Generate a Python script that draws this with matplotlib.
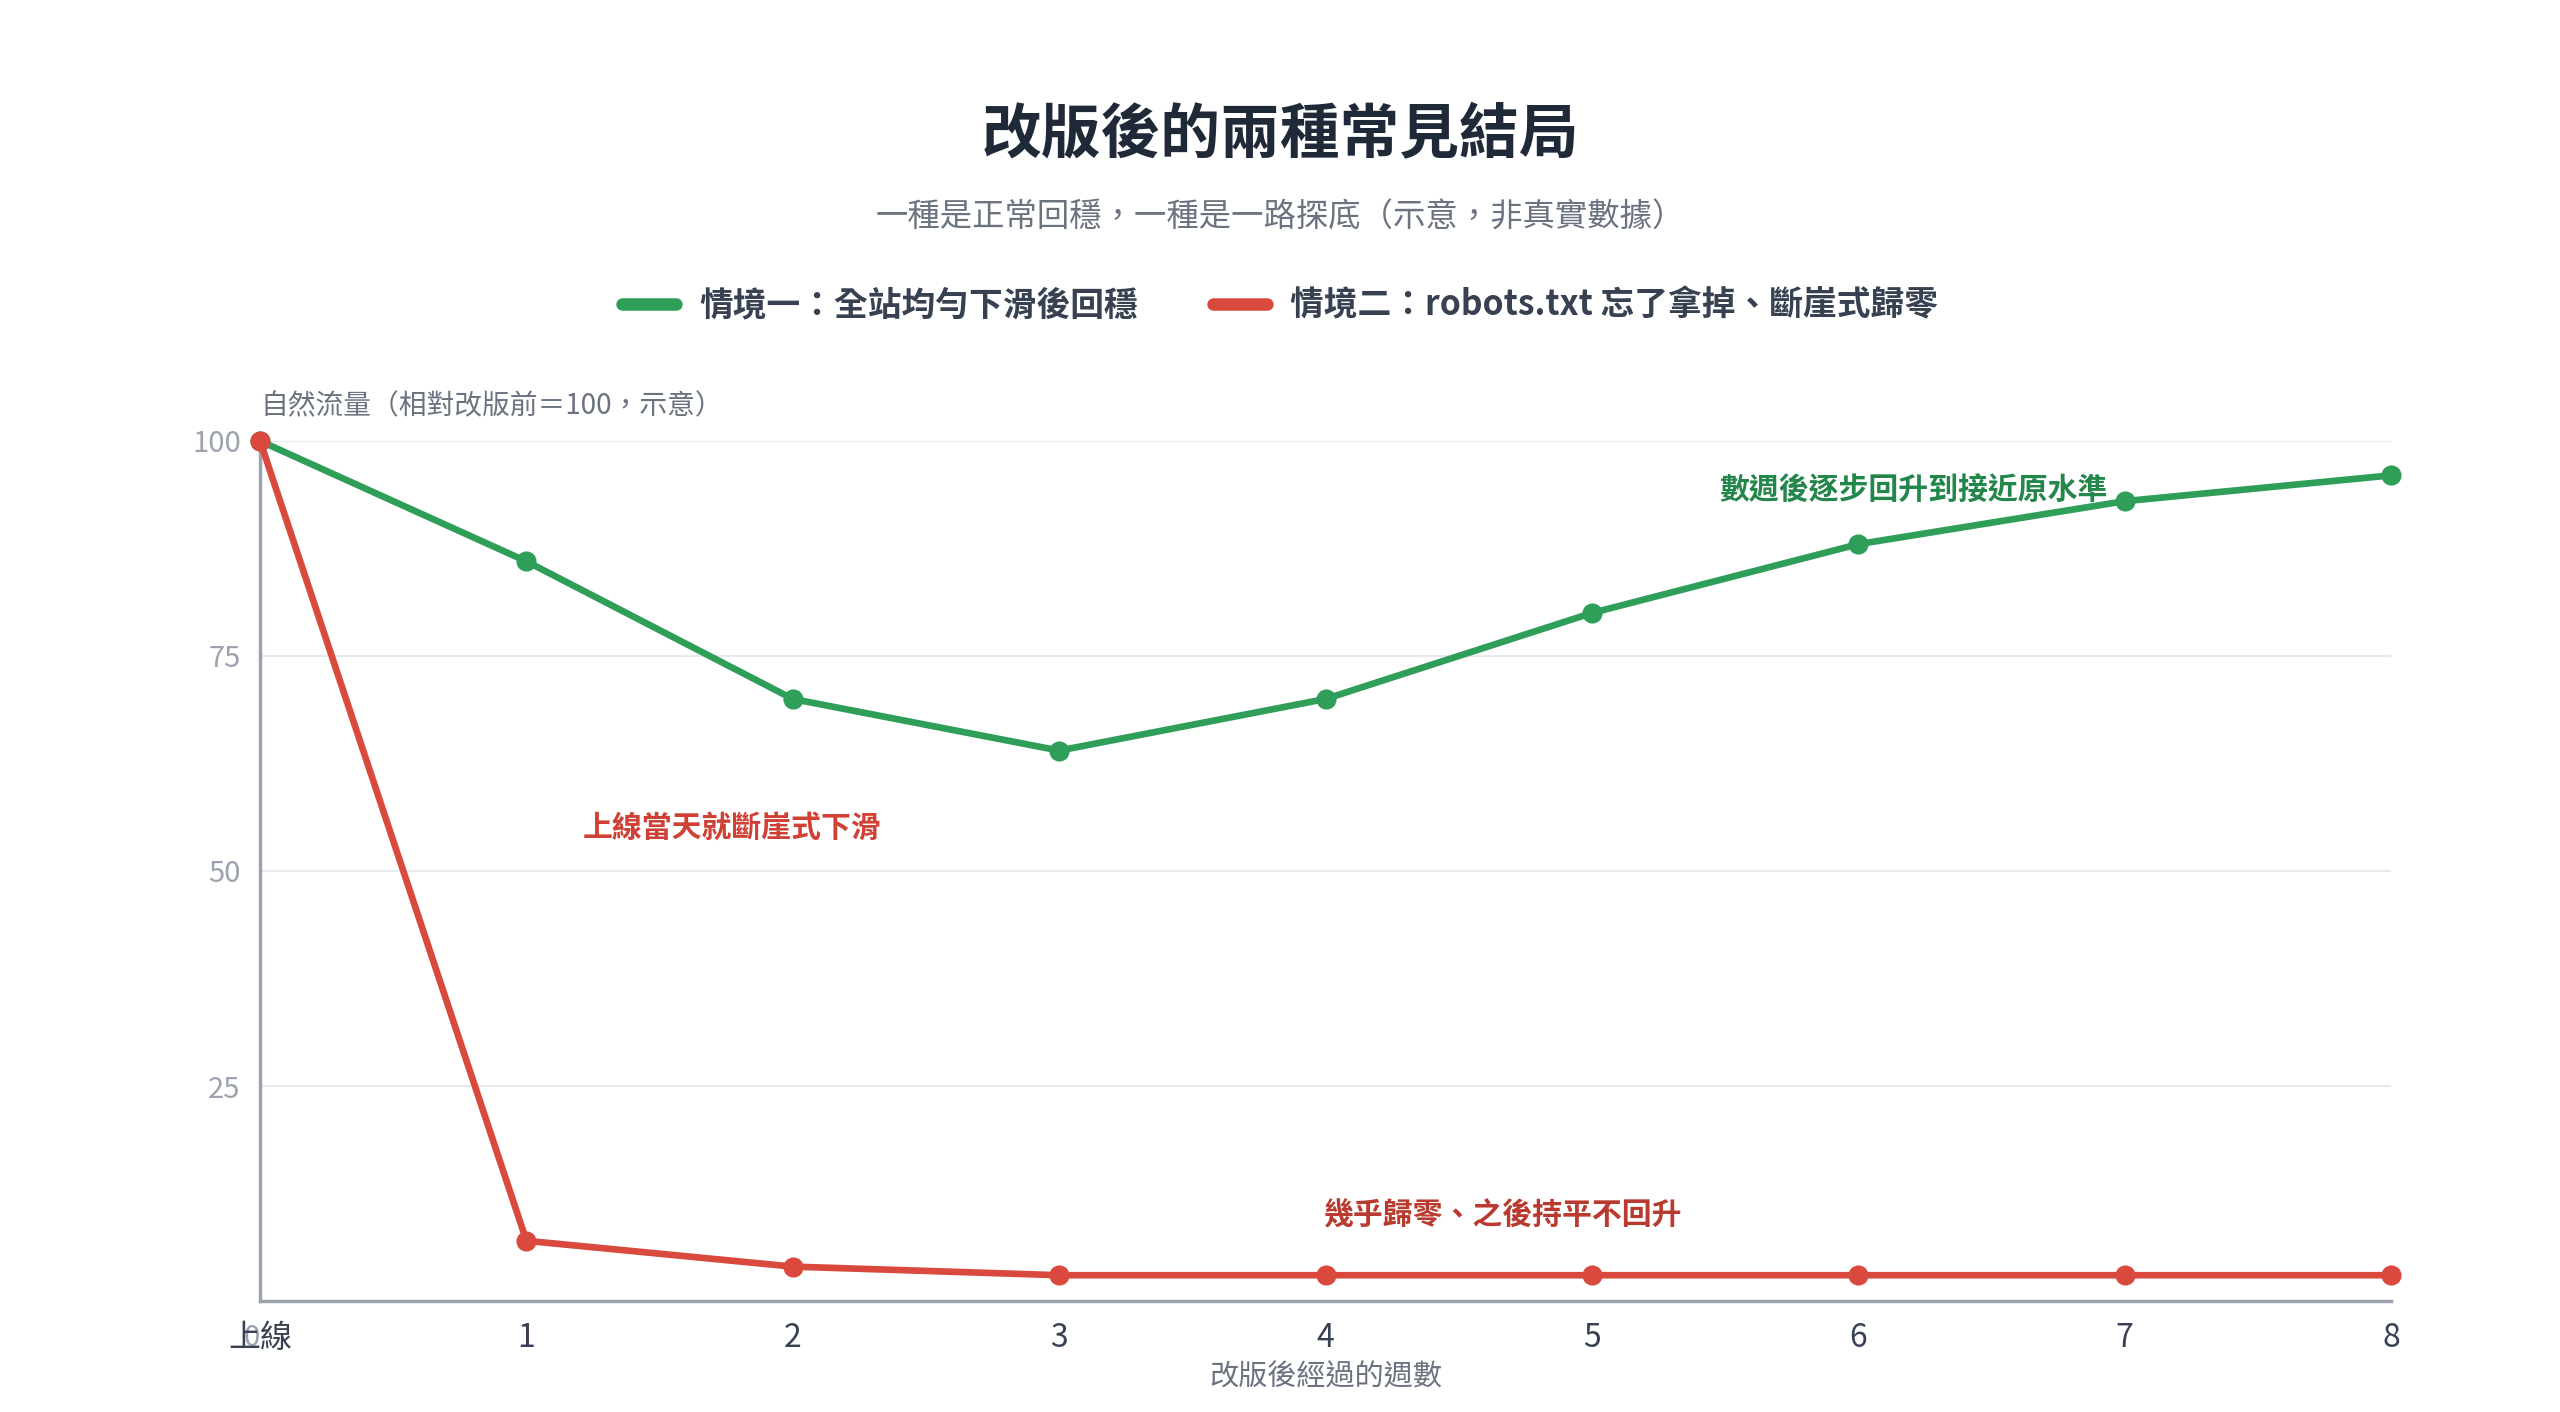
import matplotlib
matplotlib.use('Agg')
import matplotlib.pyplot as plt
from matplotlib.lines import Line2D

plt.rcParams['font.family'] = ['Noto Sans CJK TC', 'DejaVu Sans']

weeks = [0, 1, 2, 3, 4, 5, 6, 7, 8]
week_labels = ['上線', '1', '2', '3', '4', '5', '6', '7', '8']
scenario_1 = [100, 86, 70, 64, 70, 80, 88, 93, 96]
scenario_2 = [100, 7, 4, 3, 3, 3, 3, 3, 3]
y_ticks = [25, 50, 75, 100]
legend_names = ['情境一：全站均勻下滑後回穩', '情境二：robots.txt 忘了拿掉、斷崖式歸零']

green = '#2e9e58'
red = '#d9493d'

fig = plt.figure(figsize=(25.6, 14.12), dpi=100)
ax = fig.add_axes([0.1016, 0.0786, 0.8324, 0.6091])

ax.plot(weeks, scenario_1, color=green, lw=4.8, marker='o', ms=13.5, clip_on=False, zorder=3)
ax.plot(weeks, scenario_2, color=red, lw=4.8, marker='o', ms=13.5, clip_on=False, zorder=3)

ax.set_xlim(0, 8)
ax.set_ylim(0, 100)
ax.set_yticks(y_ticks)
ax.set_xticks(weeks)
ax.set_xticklabels(week_labels)
ax.tick_params(axis='y', length=0, pad=14, labelsize=21, labelcolor='#9ca3af')
ax.tick_params(axis='x', length=0, pad=15, labelsize=23, labelcolor='#374151')
ax.grid(axis='y', color='#e8eaed', lw=1.5)
ax.set_axisbelow(True)
for s in ['top', 'right']:
    ax.spines[s].set_visible(False)
for s in ['left', 'bottom']:
    ax.spines[s].set_color('#9ca3af')
    ax.spines[s].set_linewidth(2.5)

# gray zero that sits behind the first x label
ax.annotate('0', xy=(0, 0), xycoords=('data', 'axes fraction'), xytext=(-6, -16),
            textcoords='offset points', color='#9ca3af', fontsize=21, ha='center', va='top',
            zorder=0)

ax.text(0, 102.3, '自然流量（相對改版前＝100，示意）', fontsize=20, color='#6b7280',
        ha='left', va='bottom')
ax.set_xlabel('改版後經過的週數', fontsize=21, color='#6b7280', labelpad=6)

ax.text(1.21, 55, '上線當天就斷崖式下滑', fontsize=21.5, fontweight='bold', color='#cf4134',
        ha='left', va='center')
ax.text(3.99, 10, '幾乎歸零、之後持平不回升', fontsize=21.5, fontweight='bold', color='#b93a2e',
        ha='left', va='center')
ax.text(5.48, 94.3, '數週後逐步回升到接近原水準', fontsize=21.5, fontweight='bold', color='#23864a',
        ha='left', va='center')

fig.text(0.5, 1 - 136 / 1412, '改版後的兩種常見結局', fontsize=43, fontweight='bold',
         color='#1f2937', ha='center', va='center')
fig.text(0.5, 1 - 217 / 1412, '一種是正常回穩，一種是一路探底（示意，非真實數據）', fontsize=23.3,
         color='#6b7280', ha='center', va='center')

handles = [Line2D([], [], color=green, lw=9, solid_capstyle='round'),
           Line2D([], [], color=red, lw=9, solid_capstyle='round')]
leg = fig.legend(handles, legend_names, loc='center', bbox_to_anchor=(0.5, 1 - 305 / 1412),
                 ncol=2, frameon=False, fontsize=24.3, handlelength=1.6, handletextpad=0.7,
                 columnspacing=2.2)
for t in leg.get_texts():
    t.set_color('#374151')
    t.set_fontweight('bold')

fig.savefig('out.png', dpi=100)
